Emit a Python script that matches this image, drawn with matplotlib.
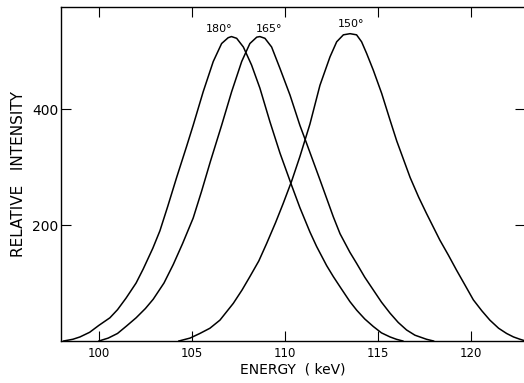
import numpy as np
import matplotlib
matplotlib.use("Agg")
import matplotlib.pyplot as plt

# energies (keV) and relative intensities
e_180 = [98.1, 98.6, 98.98, 99.5, 100.0, 100.59, 101.0, 101.46, 102.0, 102.38,
         102.9, 103.28, 103.7, 104.18, 104.71, 105.07, 105.61, 106.15, 106.6, 106.95,
         107.13, 107.41, 107.77, 108.21, 108.66, 109.2, 109.74, 110.37, 110.81, 111.35,
         111.71, 112.25, 112.61, 113.0, 113.5, 113.87, 114.3, 114.76, 115.2, 115.66,
         116.0, 116.35]
i_180 = [0, 3, 7, 15, 27, 40, 54, 74, 100, 124,
         160, 190, 232, 282, 335, 372, 430, 482, 513, 523,
         525, 522, 507, 476, 436, 378, 324, 268, 230, 188,
         163, 130, 111, 92, 68, 53, 38, 25, 14, 7,
         3, 0]

e_165 = [100.0, 100.5, 101.0, 101.49, 102.0, 102.5, 102.92, 103.5, 104.0, 104.5,
         105.07, 105.52, 106.0, 106.6, 107.14, 107.68, 108.12, 108.49, 108.66, 108.93,
         109.29, 109.74, 110.28, 110.81, 111.17, 111.89, 112.61, 112.97, 113.5, 113.86,
         114.3, 114.76, 115.2, 115.66, 116.1, 116.55, 117.0, 117.62, 118.0]
i_165 = [0, 5, 13, 26, 40, 56, 72, 100, 132, 168,
         212, 258, 310, 372, 430, 482, 513, 524, 525, 522,
         507, 470, 424, 372, 341, 278, 214, 185, 153, 134,
         110, 88, 67, 48, 32, 19, 10, 3, 0]

e_150 = [104.3, 104.9, 105.43, 105.97, 106.51, 107.23, 107.7, 108.12, 108.6, 109.02,
         109.5, 109.91, 110.37, 110.81, 111.35, 111.89, 112.43, 112.79, 113.15, 113.51,
         113.86, 114.13, 114.4, 114.76, 115.21, 115.66, 116.02, 116.74, 117.2, 117.62,
         118.34, 118.8, 119.24, 119.7, 120.14, 120.6, 121.03, 121.5, 121.93, 122.3,
         122.65, 122.95]
i_150 = [0, 5, 13, 22, 36, 65, 88, 111, 138, 168,
         204, 237, 276, 318, 374, 441, 490, 516, 528, 530,
         528, 516, 496, 467, 427, 381, 345, 282, 248, 220,
         174, 148, 122, 96, 71, 52, 36, 22, 13, 7,
         3, 0]

labels = ["180°", "165°", "150°"]
label_pos = [(106.46, 538), (109.15, 538), (113.56, 546)]

fig = plt.figure(figsize=(5.24, 3.83), dpi=100)
ax = fig.add_axes([61 / 524, 1 - 341 / 383, 464 / 524, 334 / 383])

for e, i in [(e_180, i_180), (e_165, i_165), (e_150, i_150)]:
    ax.plot(e, i, color="black", lw=1.1, solid_joinstyle="round")

for s, (x, y) in zip(labels, label_pos):
    ax.text(x, y, s, ha="center", va="center", fontsize=8)

ax.set_xlim(97.96, 122.92)
ax.set_ylim(0, 576)
ax.set_xticks([100, 105, 110, 115, 120])
ax.set_yticks([200, 400])
ax.tick_params(direction="in", length=7, width=0.8, top=True, right=True)
ax.tick_params(axis="x", labelsize=8.5, pad=4)
ax.tick_params(axis="y", labelsize=10, pad=2)
for sp in ax.spines.values():
    sp.set_linewidth(1.0)

ax.set_xlabel("ENERGY  ( keV)", fontsize=10, labelpad=2)
ax.set_ylabel("RELATIVE   INTENSITY", fontsize=11, labelpad=4)

fig.savefig("out.png", dpi=100)
